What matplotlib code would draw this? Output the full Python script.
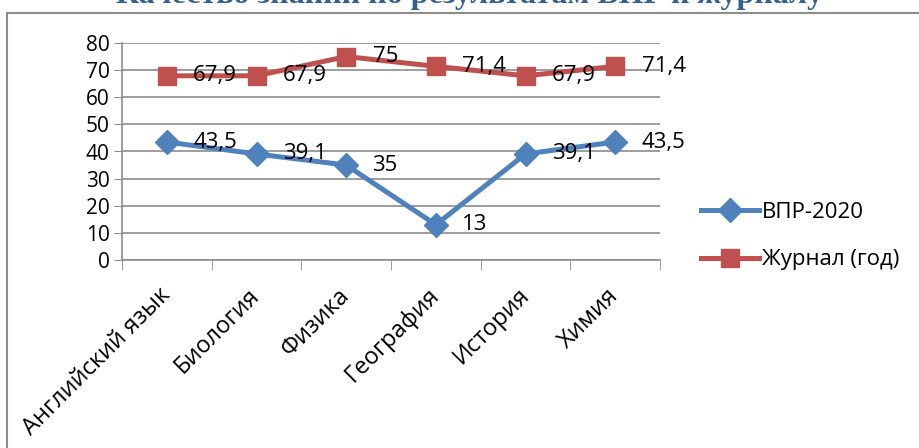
import matplotlib.pyplot as plt
from matplotlib.patches import Rectangle

subjects = ["Английский язык", "Биология", "Физика", "География", "История", "Химия"]
vpr_2020 = [43.5, 39.1, 35, 13, 39.1, 43.5]
journal_year = [67.9, 67.9, 75, 71.4, 67.9, 71.4]
series_names = ["ВПР-2020", "Журнал (год)"]

plt.rcParams['font.family'] = ['Open Sans', 'DejaVu Sans']

W, H = 919, 448
fig = plt.figure(figsize=(W / 100, H / 100), dpi=100)
ax = fig.add_axes([122 / W, 1 - 260 / H, (660 - 122) / W, (260 - 43) / H])

# outer chart frame (partly outside the picture)
fig.patches.append(Rectangle((7 / W, -0.1), 1.0, 1 - 13 / H + 0.1, transform=fig.transFigure,
                             fill=False, edgecolor="#8c8c8c", linewidth=1.5))

# title, cut at the top edge like in the reference
fig.text(470 / W, 1 - 3 / H, "Качество знаний по результатам ВПР и журналу",
         ha="center", va="baseline", fontsize=23, fontweight="bold",
         family="Liberation Serif", color="#365F91")

x = list(range(len(subjects)))
ax.plot(x, vpr_2020, color="#4F81BD", linewidth=3.6, marker="D", markersize=12,
        label=series_names[0])
ax.plot(x, journal_year, color="#C0504D", linewidth=3.6, marker="s", markersize=13,
        label=series_names[1])

for series in (vpr_2020, journal_year):
    for xi, v in zip(x, series):
        ax.annotate(f"{v:g}".replace(".", ","), (xi, v), xytext=(19, 0), textcoords="offset points",
                    ha="left", va="center", fontsize=16)

ax.set_xlim(-0.5, len(subjects) - 0.5)
ax.set_ylim(0, 80)
ax.set_yticks(range(0, 81, 10))
ax.tick_params(axis="y", labelsize=15, length=6, color="#8c8c8c", pad=3)
ax.set_xticks(x)
ax.set_xticklabels(subjects, rotation=45, ha="right", va="center", rotation_mode="anchor",
                   fontsize=17)
ax.tick_params(axis="x", length=0, pad=23)
ax.set_xticks([i - 0.5 for i in range(len(subjects) + 1)], minor=True)
ax.tick_params(axis="x", which="minor", length=7, color="#8c8c8c")

ax.grid(axis="y", color="#8c8c8c", linewidth=1.2)
ax.set_axisbelow(True)
for side in ["top", "right"]:
    ax.spines[side].set_visible(False)
for side in ["left", "bottom"]:
    ax.spines[side].set_color("#8c8c8c")
    ax.spines[side].set_linewidth(1.2)

leg = fig.legend(loc="center left", bbox_to_anchor=(681 / W, 1 - 236 / H), frameon=False,
                 fontsize=16, handlelength=2.6, handletextpad=0.15, labelspacing=1.2)

fig.savefig("out.png", dpi=100)
